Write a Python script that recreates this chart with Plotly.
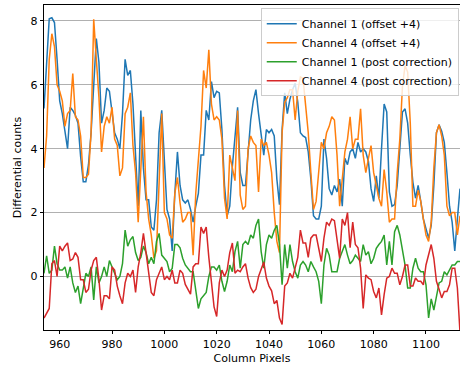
import numpy as np
import plotly.graph_objects as go

columns = np.arange(954, 1114)

ch1_offset = [
    5.26, 6.7, 8.07, 8.1, 7.95, 6.8, 5.5, 5.1, 4.5, 4.0,
    5.3, 5.2, 5.05, 4.8, 3.75, 2.97, 2.97, 3.5, 4.5, 6.0,
    7.45, 6.7, 4.8, 5.2, 5.9, 5.8, 5.2, 4.5, 4.3, 4.0,
    5.1, 6.8, 6.3, 6.45, 5.4, 4.0, 2.2, 5.2, 3.4, 2.4,
    2.4, 1.55, 1.45, 2.4, 4.5, 5.2, 3.6, 2.1, 1.8, 0.8,
    2.6, 3.9, 2.85, 2.4, 2.3, 2.4, 2.1, 1.7, 2.2, 2.6,
    3.8, 3.8, 5.2, 4.9, 6.1, 5.6, 5.8, 5.75, 4.6, 2.85,
    1.9, 2.2, 3.45, 4.3, 5.3, 3.25, 2.85, 2.85, 3.9, 4.9,
    5.5, 5.85, 5.1, 4.35, 3.8, 4.6, 4.5, 4.6, 4.4, 3.05,
    2.25, 4.6, 5.75, 5.1, 5.55, 5.85, 6.05, 5.45, 4.5, 4.4,
    4.35, 3.9, 3.05, 1.9, 1.8, 1.8, 2.2, 4.3, 3.7, 2.75,
    2.55, 2.85, 2.65, 3.05, 2.2, 3.7, 3.5, 3.9, 4.0, 3.7,
    4.2, 3.9, 4.0, 3.9, 3.6, 2.75, 2.35, 3.15, 2.45, 4.0,
    5.4, 5.15, 2.65, 2.2, 2.25, 2.85, 4.1, 5.15, 5.25, 4.8,
    3.8, 2.95, 2.45, 2.85, 2.35, 1.8, 1.5, 1.2, 1.6, 2.85,
    4.5, 4.75, 4.55, 4.2, 3.25, 2.2, 1.7, 0.8, 1.8, 2.75,
]

ch4_offset = [
    3.4, 4.4, 6.8, 7.6, 7.2, 6.0, 5.8, 5.5, 4.7, 5.1,
    5.2, 6.35, 5.0, 4.9, 4.4, 3.1, 3.1, 3.2, 4.5, 8.05,
    6.8, 5.6, 3.9, 4.7, 5.0, 4.8, 5.3, 4.3, 4.1, 3.15,
    3.4, 5.1, 5.3, 5.75, 4.1, 3.25, 1.7, 3.5, 5.0, 2.65,
    1.8, 1.3, 0.57, 0.8, 3.2, 5.1, 2.0, 1.8, 1.3, 1.2,
    2.6, 3.1, 2.3, 1.7, 1.8, 2.0, 2.0, 0.67, 2.6, 3.6,
    4.7, 6.45, 5.9, 7.1, 5.4, 4.9, 5.0, 4.9, 4.3, 2.45,
    1.8, 3.8, 3.45, 3.0, 5.2, 2.55, 2.1, 2.2, 4.0, 4.4,
    4.2, 4.1, 2.65, 4.3, 4.1, 4.2, 3.8, 3.25, 2.0, 1.1,
    0.75, 4.5, 5.45, 5.6, 5.85, 5.85, 4.9, 5.8, 6.25, 6.2,
    5.35, 4.5, 3.25, 2.1, 2.35, 3.2, 4.2, 4.0, 4.5, 4.7,
    5.0, 4.9, 3.8, 2.2, 3.05, 3.9, 4.3, 5.0, 4.0, 4.3,
    4.3, 5.25, 3.8, 3.25, 3.7, 4.1, 3.25, 2.85, 2.45, 2.2,
    3.35, 2.65, 1.7, 1.8, 1.8, 3.25, 4.3, 5.95, 6.6, 6.4,
    4.8, 2.2, 2.2, 2.7, 2.35, 1.8, 1.3, 1.1, 1.7, 3.4,
    4.5, 4.75, 4.4, 3.8, 2.2, 1.9, 2.0, 2.0, 1.3, 1.9,
]

ch1_post = [
    0.1, 0.65, 0.1, 0.2, 0.95, 0.4, 0.2, 0.2, 0.3, -0.05,
    0.3, -0.2, -0.5, -0.3, -0.85, -0.4, 0.1, 0.0, 0.3, -0.73,
    0.3, -0.2, 0.0, 0.3, 0.0, 0.5, 0.3, 0.1, -0.1, 0.0,
    0.4, 1.45, 0.95, 1.15, 1.25, 0.75, 0.5, 0.6, 0.95, 0.75,
    0.4, 0.6, 0.4, 1.1, 1.35, 0.67, 0.57, 0.47, 0.15, 0.25,
    1.0, 1.0, 0.9, 0.57, 0.36, 0.26, 0.15, 0.15, -0.5, -1.0,
    -0.7, -0.6, -0.5, 0.0, 0.3, 0.3, 0.2, 0.36, -0.15, -0.47,
    -0.15, 0.36, 0.15, 0.78, 1.1, 0.26, 1.0, 1.1, 1.0, 1.3,
    1.2, 1.6, 1.8, 0.78, 0.26, 1.0, 1.3, 1.2, 1.45, 1.6,
    1.0, -0.26, 1.0, 0.26, 1.0, 0.47, 0.15, -0.05, 0.36, 0.47,
    0.36, 0.15, 0.47, 0.3, 0.15, -0.15, -0.85, 0.36, 0.88, 0.67,
    0.15, 0.15, 0.15, 0.57, 0.78, 1.0, 0.67, 0.4, 0.5, 0.67,
    0.57, 0.47, 1.0, 0.67, 0.78, 0.4, 0.57, 0.88, 1.0, 1.1,
    1.3, 0.36, 1.1, 0.36, 1.4, 1.6, 1.3, 0.78, 0.36, -0.36,
    -0.36, 0.26, 0.57, 0.26, 0.15, 0.15, -0.26, -1.3, -0.7, -1.05,
    -0.6, -0.2, -0.15, 0.15, 0.05, 0.2, 0.36, 0.36, 0.47, 0.47,
]

ch4_post = [
    -1.3, -1.15, -1.0, 0.4, 0.5, 0.0, 0.95, 0.8, 0.95, 1.05,
    0.5, 0.55, 0.75, 0.6, -0.1, -0.1, -0.5, -0.4, 0.2, 0.5,
    0.6, -0.1, -1.05, -0.6, -0.6, -0.7, 0.3, 0.2, -0.3, -0.6,
    -0.85, -0.2, 0.1, 0.0, 0.2, -0.5, 0.3, 0.75, 1.35, 0.75,
    0.1, -0.5, -0.6, -0.1, 0.1, 0.3, -0.1, 0.0, -0.1, 0.2,
    -0.2, -0.2, 0.2, 0.1, -0.25, -0.4, -0.55, 0.3, 0.4, 0.4,
    1.55, 1.35, 1.55, 0.6, -0.2, -0.95, -1.25, -0.2, 0.2, 0.0,
    0.2, 0.75, 1.05, 0.1, 0.2, 0.15, 0.3, 0.4, -0.05, -0.35,
    -0.5, -0.4, 0.0, 0.25, 0.45, -0.05, -0.3, -0.45, -0.85, -0.75,
    -1.3, -1.5, -0.3, -0.2, 0.1, -0.05, 0.25, 0.6, 1.45, 1.05,
    1.05, 0.6, 1.2, 1.3, 1.3, 0.9, 0.47, 1.2, 1.7, 1.6,
    1.8, 1.75, 1.2, 0.57, 1.8, 1.6, 2.0, 0.9, 1.7, 1.0,
    0.9, 0.26, -1.0, 0.05, -0.05, -0.1, -0.47, -0.67, -0.36, -1.2,
    -0.57, -0.05, 0.0, 0.26, 0.1, 0.1, -0.26, 0.0, 0.36, 0.36,
    -0.3, -0.3, -0.05, -0.15, -0.15, -0.26, 0.36, 0.67, 1.0, 0.57,
    -0.15, -0.4, -0.67, -0.47, -0.47, -0.26, 0.26, 0.26, -0.36, -1.75,
]

series_names = [
    "Channel 1 (offset +4)",
    "Channel 4 (offset +4)",
    "Channel 1 (post correction)",
    "Channel 4 (post correction)",
]
series_values = [ch1_offset, ch4_offset, ch1_post, ch4_post]
series_colors = ["#1f77b4", "#ff7f0e", "#2ca02c", "#d62728"]

xtick_vals = [960, 980, 1000, 1020, 1040, 1060, 1080, 1100]
ytick_vals = [0, 2, 4, 6, 8]

FONT = "DejaVu Sans"

fig = go.Figure()
for name, vals, col in zip(series_names, series_values, series_colors):
    fig.add_trace(go.Scatter(
        x=columns, y=vals, mode="lines", name=name,
        line=dict(color=col, width=1.5),
    ))

fig.update_layout(
    width=460, height=367,
    margin=dict(l=44, r=0, t=5, b=37),
    paper_bgcolor="white", plot_bgcolor="white",
    font=dict(family=FONT, size=11, color="black"),
    showlegend=True,
    legend=dict(
        x=0.997, y=0.99, xanchor="right", yanchor="top",
        bgcolor="rgba(255,255,255,0.8)", bordercolor="#cccccc", borderwidth=1,
        font=dict(family=FONT, size=11, color="black"),
        itemwidth=30, tracegroupgap=0,
    ),
    xaxis=dict(
        range=[954, 1113], tickvals=xtick_vals,
        ticks="outside", ticklen=3.5, tickwidth=0.8, tickcolor="black",
        showline=True, linecolor="black", linewidth=0.8, mirror=True,
        showgrid=False, zeroline=False,
        title=dict(text="Column Pixels", font=dict(family=FONT, size=11), standoff=4),
        automargin=False,
    ),
    yaxis=dict(
        range=[-1.675, 8.5], tickvals=ytick_vals,
        ticks="outside", ticklen=3.5, tickwidth=0.8, tickcolor="black",
        showline=True, linecolor="black", linewidth=0.8, mirror=True,
        showgrid=True, gridcolor="#b0b0b0", gridwidth=0.8, zeroline=False,
        title=dict(text="Differential counts", font=dict(family=FONT, size=11), standoff=6),
        automargin=False,
    ),
)

fig.write_html("out.html")
